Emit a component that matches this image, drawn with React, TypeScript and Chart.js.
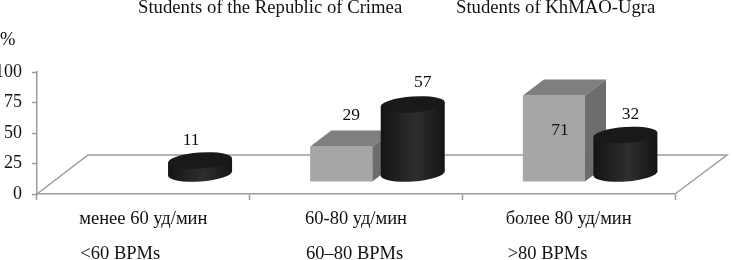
import React, { useEffect, useRef } from "react";
import { Chart, registerables } from "chart.js";

Chart.register(...registerables);

const categories = ["менее 60 уд/мин", "60-80 уд/мин", "более 80 уд/мин"];
const bpmLabels = ["<60 BPMs", "60–80 BPMs", ">80 BPMs"];
const seriesNames = ["Students of the Republic of Crimea", "Students of KhMAO-Ugra"];
const crimea = [null, 29, 71];
const khmao = [11, 57, 32];
const yTicks = [0, 25, 50, 75, 100];
const unit = "%";

const FAMILY = '"Liberation Serif", serif';
const FONT = `17.5px ${FAMILY}`;
const TEXT = "#111111";
const AXIS = "#9c9c9c";
const DX = 21;
const DY = -12;
const FLOOR_X = 51;
const FLOOR_Y = 39;
const RY = 8;
const TILT = (-4 * Math.PI) / 180;
const crimeaLabelOffset = [[0, 0], [10, -31], [6, 35]];
const khmaoLabelOffset = [[-9, -28], [10, -30], [5, -29]];
const bpmOffsetX = [-63, -50, -61];
const headerX = [138, 456];

function drawBox(ctx: CanvasRenderingContext2D, el: any) {
  const l = el.x - el.width / 2;
  const r = el.x + el.width / 2;
  const t = el.y;
  const b = el.base;
  ctx.fillStyle = "#7f7f7f";
  ctx.beginPath();
  ctx.moveTo(l, t);
  ctx.lineTo(l + DX, t - 16);
  ctx.lineTo(r + DX, t - 16);
  ctx.lineTo(r, t);
  ctx.closePath();
  ctx.fill();
  ctx.fillStyle = "#6d6d6d";
  ctx.beginPath();
  ctx.moveTo(r, t);
  ctx.lineTo(r + DX, t - 16);
  ctx.lineTo(r + DX, b - 16);
  ctx.lineTo(r, b);
  ctx.closePath();
  ctx.fill();
}

function drawCylinder(ctx: CanvasRenderingContext2D, el: any) {
  const rx = el.width / 2 + 1;
  const cx = el.x;
  const top = el.y - RY;
  const bottom = el.base - RY;
  const ex = rx * Math.cos(TILT);
  const ey = rx * Math.sin(TILT);
  const g = ctx.createLinearGradient(cx - rx, 0, cx + rx, 0);
  g.addColorStop(0, "#141414");
  g.addColorStop(0.55, "#2e2e2e");
  g.addColorStop(1, "#141414");
  ctx.fillStyle = g;
  ctx.beginPath();
  ctx.ellipse(cx, bottom, rx, RY, TILT, 0, Math.PI * 2);
  ctx.fill();
  ctx.beginPath();
  ctx.moveTo(cx - ex, top - ey);
  ctx.lineTo(cx + ex, top + ey);
  ctx.lineTo(cx + ex, bottom + ey);
  ctx.lineTo(cx - ex, bottom - ey);
  ctx.closePath();
  ctx.fill();
  ctx.fillStyle = "#191919";
  ctx.beginPath();
  ctx.ellipse(cx, top, rx, RY, TILT, 0, Math.PI * 2);
  ctx.fill();
}

const scene = {
  id: "scene",
  beforeDatasetsDraw(chart: any) {
    const { ctx, chartArea: a } = chart;
    ctx.save();
    ctx.strokeStyle = AXIS;
    ctx.lineWidth = 1.5;
    ctx.beginPath();
    ctx.moveTo(a.left, a.bottom);
    ctx.lineTo(a.left + FLOOR_X, a.bottom - FLOOR_Y);
    ctx.lineTo(a.right + FLOOR_X + 1, a.bottom - FLOOR_Y);
    ctx.lineTo(a.right, a.bottom);
    ctx.stroke();
    ctx.restore();
    ctx.save();
    ctx.translate(DX, DY);
  },
  afterDatasetsDraw(chart: any) {
    const { ctx } = chart;
    const boxes = chart.getDatasetMeta(0).data;
    const cyls = chart.getDatasetMeta(1).data;
    boxes.forEach((el: any, i: number) => {
      if (crimea[i] != null) drawBox(ctx, el);
    });
    cyls.forEach((el: any) => drawCylinder(ctx, el));
    ctx.font = FONT;
    ctx.fillStyle = TEXT;
    ctx.textAlign = "center";
    ctx.textBaseline = "middle";
    boxes.forEach((el: any, i: number) => {
      if (crimea[i] != null)
        ctx.fillText(String(crimea[i]), el.x + crimeaLabelOffset[i][0], el.y + crimeaLabelOffset[i][1]);
    });
    cyls.forEach((el: any, i: number) => {
      ctx.fillText(String(khmao[i]), el.x + khmaoLabelOffset[i][0], el.y + khmaoLabelOffset[i][1]);
    });
    ctx.restore();
  },
  afterDraw(chart: any) {
    const { ctx, scales } = chart;
    ctx.save();
    ctx.fillStyle = TEXT;
    ctx.textAlign = "left";
    ctx.textBaseline = "alphabetic";
    ctx.font = `18.7px ${FAMILY}`;
    seriesNames.forEach((s, i) => ctx.fillText(s, headerX[i], 13));
    ctx.font = `18.5px ${FAMILY}`;
    ctx.fillText(unit, 0, 45);
    bpmLabels.forEach((s, i) => ctx.fillText(s, scales.x.getPixelForValue(i) + bpmOffsetX[i], 259));
    ctx.restore();
  },
};

export default function App() {
  const ref = useRef<HTMLCanvasElement>(null);
  useEffect(() => {
    const fit = (size: any) => (scale: any) => {
      Object.assign(scale, size);
      scale.paddingTop = 0;
      scale.paddingBottom = 0;
      scale.paddingLeft = 0;
      scale.paddingRight = 0;
    };
    const chart = new Chart(ref.current!, {
      type: "bar",
      data: {
        labels: categories,
        datasets: [
          { label: seriesNames[0], data: crimea, backgroundColor: "#a6a6a6", borderWidth: 0, clip: false },
          { label: seriesNames[1], data: khmao, backgroundColor: "rgba(0,0,0,0)", borderWidth: 0, clip: false },
        ],
      },
      options: {
        responsive: false,
        animation: false,
        devicePixelRatio: 1,
        layout: { padding: { top: 72, right: 57, left: 0, bottom: 0 } },
        plugins: { legend: { display: false }, tooltip: { enabled: false } },
        datasets: { bar: { categoryPercentage: 0.672, barPercentage: 0.87 } },
        scales: {
          x: {
            afterFit: fit({ height: 66 }),
            border: { color: AXIS, width: 1.5 },
            grid: { drawOnChartArea: false, drawTicks: true, tickLength: 6, tickColor: AXIS, tickWidth: 1.5 },
            ticks: { color: TEXT, font: { family: FAMILY, size: 18.5 }, padding: 8, maxRotation: 0, autoSkip: false },
          },
          y: {
            min: 0,
            max: 100,
            afterFit: fit({ width: 37 }),
            afterBuildTicks: (s: any) => {
              s.ticks = yTicks.map((value) => ({ value }));
            },
            border: { color: AXIS, width: 1.5 },
            grid: { drawOnChartArea: false, drawTicks: true, tickLength: 5, tickColor: AXIS, tickWidth: 1.5 },
            ticks: { color: TEXT, font: { family: FAMILY, size: 18 }, padding: 10 },
          },
        },
      },
      plugins: [scene],
    } as any);
    return () => chart.destroy();
  }, []);
  return (
    <div style={{ position: "fixed", left: 0, top: 0, width: 732, height: 260, background: "#fff" }}>
      <canvas ref={ref} width={732} height={260} style={{ display: "block" }} />
    </div>
  );
}
